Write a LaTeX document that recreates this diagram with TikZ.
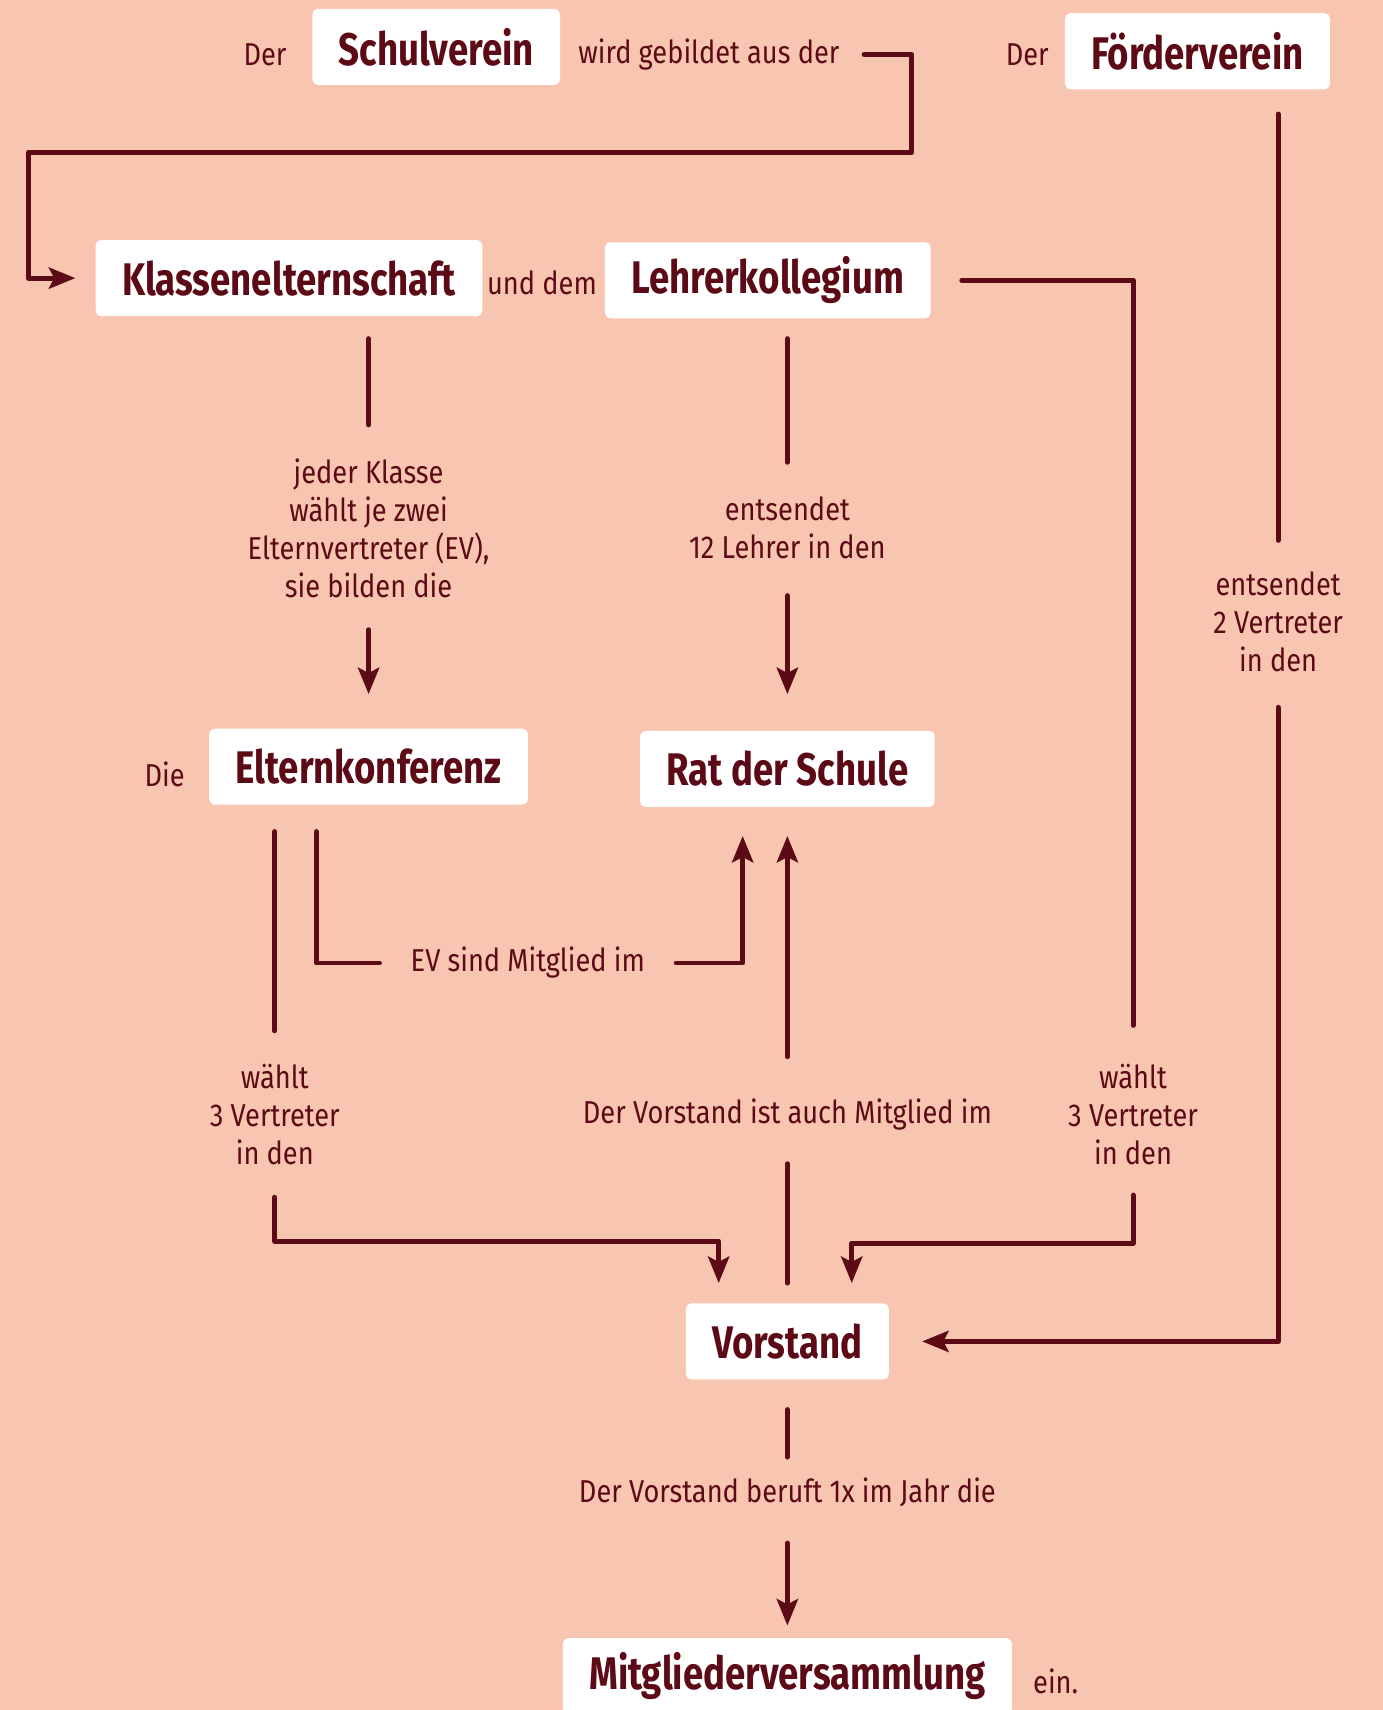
\documentclass[tikz,border=0pt]{standalone}
\usepackage{fontspec}
\setmainfont{Fira Sans}[FakeStretch=0.86]
\newfontfamily\headfont{Fira Sans}[FakeStretch=0.8]
\usetikzlibrary{calc,arrows.meta}
\definecolor{lachs}{RGB}{248,197,176}
\definecolor{weinrot}{RGB}{92,10,22}
\tikzset{
  kasten/.style={fill=white, text=weinrot, font=\headfont\bfseries\fontsize{13}{15}\selectfont,
    inner xsep=7.5pt, minimum height=0.76cm, rounded corners=1.5pt},
  txt/.style={text=weinrot, font=\fontsize{9}{10.8}\selectfont, align=center, inner sep=0pt},
  linie/.style={draw=weinrot, line width=1.4pt, line cap=round, line join=round},
  pfeil/.style={linie, -{Stealth[length=7.5pt,width=6pt,inset=1.5pt]}}
}
\begin{document}
\begin{tikzpicture}[x={(0.0109cm,0)},y={(0,-0.0109cm)}]
  \fill[lachs] (0,0) rectangle (1268,1568);
  \useasboundingbox (0,0) rectangle (1268,1568);
  % ------ Zeile 1 -----------------------------
  \node[txt] (derA) at (243,50) {Der};
  \node[kasten] (schul) at (400,43) {Schulverein};
  \node[txt] (wird) at (650,50) {wird gebildet aus der};
  \node[txt] (derB) at (942,50) {Der};
  \node[kasten] (foerder) at (1098,47) {Förderverein};
  % ------ Zeile 2 -----------------------------
  \node[kasten] (klassen) at (265,255) {Klassenelternschaft};
  \node[txt] (und) at (497,259) {und dem};
  \node[kasten] (lehrer) at (704,257) {Lehrerkollegium};
  \node[txt] (jeder) at (338,484) {jeder Klasse\\wählt je zwei\\Elternvertreter (EV),\\sie bilden die};
  \node[txt] (entsL) at (722,484) {entsendet\\12 Lehrer in den};
  \node[txt] (entsF) at (1172,570) {entsendet\\2 Vertreter\\in den};
  % ------ Zeile 3 -----------------------------
  \node[txt] (die) at (151,710) {Die};
  \node[kasten] (eltern) at (338,703) {Elternkonferenz};
  \node[kasten] (rat) at (722,705) {Rat der Schule};
  \node[txt] (evm) at (484,883) {EV sind Mitglied im};
  \node[txt] (waehltL) at (252,1022) {wählt\\3 Vertreter\\in den};
  \node[txt] (vorstM) at (722,1022) {Der Vorstand ist auch Mitglied im};
  \node[txt] (waehltR) at (1039,1022) {wählt\\3 Vertreter\\in den};
  % ------ Zeile 4 -----------------------------
  \node[kasten] (vorstand) at (722,1230) {Vorstand};
  \node[txt] (beruft) at (722,1368) {Der Vorstand beruft 1x im Jahr die};
  \node[kasten] (mitglied) at (722,1537) {Mitgliederversammlung};
  \node[txt] (ein) at (968,1542) {ein.};
  \coordinate (c1) at (836,140);
  \coordinate (c2) at (26,140);
  \coordinate (cL) at (659,1138);
  \coordinate (cR) at (781,1140);
  % ------ Verbindungen -----------------------------
  \draw[pfeil] ($(wird.east)+(22,0)$) -| (c1) -| (c2) |- ($(klassen.west)+(-18,0)$);
  \draw[linie] ($(foerder.south -| entsF)+(0,22)$) -- ($(entsF.north)+(0,-28)$);
  \draw[pfeil] ($(entsF.south)+(0,32)$) |- ($(vorstand.east)+(30,0)$);
  \draw[linie] ($(lehrer.east)+(28,0)$) -| ($(waehltR.north)+(0,-35)$);
  \draw[pfeil] ($(waehltR.south)+(0,27)$) |- (cR) -- ($(vorstand.north -| cR)+(0,-18)$);
  \draw[linie] ($(klassen.south -| jeder)+(0,20)$) -- ($(jeder.north)+(0,-30)$);
  \draw[pfeil] ($(jeder.south)+(0,29)$) -- ($(eltern.north -| jeder)+(0,-31)$);
  \draw[linie] ($(lehrer.south -| entsL)+(0,18)$) -- ($(entsL.north)+(0,-31)$);
  \draw[pfeil] ($(entsL.south)+(0,33)$) -- ($(rat.north -| entsL)+(0,-33)$);
  \draw[linie] ($(eltern.south -| waehltL)+(0,24)$) -- ($(waehltL.north)+(0,-30)$);
  \draw[pfeil] ($(waehltL.south)+(0,29)$) |- (cL) -- ($(vorstand.north -| cL)+(0,-18)$);
  \draw[linie] ($(eltern.south)+(-48,24)$) |- ($(evm.west)+(-28,0)$);
  \draw[pfeil] ($(evm.east)+(28,0)$) -| ($(rat.south)+(-41,26)$);
  \draw[pfeil] ($(vorstM.north)+(0,-38)$) -- ($(rat.south)+(0,26)$);
  \draw[linie] ($(vorstM.south)+(0,30)$) -- ($(vorstand.north)+(0,-18)$);
  \draw[linie] ($(vorstand.south)+(0,27)$) -- ($(beruft.north)+(0,-18)$);
  \draw[pfeil] ($(beruft.south)+(0,33)$) -- ($(mitglied.north)+(0,-11)$);
\end{tikzpicture}
\end{document}
